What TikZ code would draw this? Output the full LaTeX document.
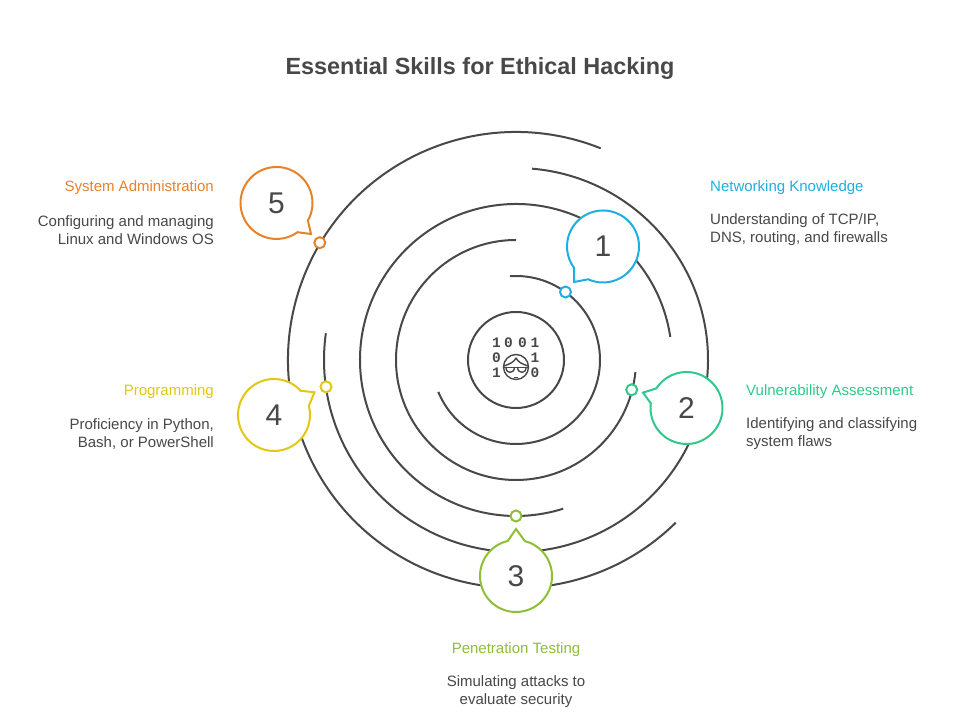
\documentclass[tikz,border=0pt]{standalone}
\usepackage{fontspec}
\setmainfont{Liberation Sans}
\newfontfamily\bitfont[BoldFont={Liberation Mono Bold}]{Liberation Mono}
\definecolor{ink}{HTML}{484848}
\definecolor{cone}{HTML}{1EAFE0}
\definecolor{ctwo}{HTML}{2FC98A}
\definecolor{cthree}{HTML}{8FBF35}
\definecolor{cfour}{HTML}{E2C814}
\definecolor{cfive}{HTML}{E6832A}
\newcommand{\ring}[3]{\draw[ringline] ([shift={(hub)}]#2:#1pt) arc[start angle=#2,end angle=#3,radius=#1pt];}
% name, colour, centre, start angle, end angle, tip, number
\newcommand{\talk}[7]{%
  \coordinate (#1c) at (#3);
  \draw[bubble,draw=#2] (#6) -- ([shift={(#1c)}]#4:36pt) arc[start angle=#4,end angle=#5,radius=36pt] -- cycle;
  \node[numtext] (#1) at (#1c) {#7};
}
\tikzset{
  ringline/.style={draw=ink,line width=2pt},
  bubble/.style={line width=2pt,fill=white,line join=miter,miter limit=3},
  dotmark/.style={circle,draw=#1,fill=white,line width=2pt,minimum size=11pt,inner sep=0pt},
  numtext/.style={font=\fontsize{30}{34}\selectfont,text=ink,inner sep=0pt},
  headl/.style={font=\fontsize{15}{18}\selectfont,inner sep=0pt},
  bodyl/.style={font=\fontsize{15}{18}\selectfont,text=ink,inner sep=0pt},
  bit/.style={font=\fontsize{14.5}{14.5}\selectfont\bitfont\bfseries,text=ink,inner sep=0pt},
  iconline/.style={draw=ink,line width=1.4pt,line join=round,line cap=round}
}
\begin{document}
\begin{tikzpicture}[x=1pt,y=1pt]
\useasboundingbox (0,0) rectangle (960,727);
\fill[white] (0,0) rectangle (960,727);
\coordinate (hub) at (516,367);
\node[font=\fontsize{23.4}{28}\selectfont\bfseries,text=ink,inner sep=0pt] (title) at (480,658.5) {Essential Skills for Ethical Hacking};
% rings
\draw[ringline] (hub) circle[radius=48pt];
\ring{84}{94.1}{-157.7}
\ring{120}{90}{354.2}
\ring{156}{8.5}{287.6}
\ring{192}{85.2}{-188}
\ring{228}{68.2}{314.5}
% markers on the rings
\node[dotmark=cone] (d1) at (565.5,435) {};
\node[dotmark=ctwo] (d2) at (631.7,337.2) {};
\node[dotmark=cthree] (d3) at (516,211) {};
\node[dotmark=cfour] (d4) at (326,340.2) {};
\node[dotmark=cfive] (d5) at (319.8,484.3) {};
% speech bubbles
\talk{b1}{cone}{603,480.5}{245.7}{576.6}{574,445}{1}
\talk{b2}{ctwo}{686.5,319}{172.5}{507.1}{643,334.4}{2}
\talk{b3}{cthree}{516,151}{103.2}{435.7}{516,198}{3}
\talk{b4}{cfour}{274,312}{42.3}{374.7}{314.5,334.7}{4}
\talk{b5}{cfive}{276.5,524}{-29.3}{305.7}{311,493}{5}
% labels
\node[headl,text=cone,anchor=west] (h1) at (710,539.5) {Networking Knowledge};
\node[bodyl,align=left,anchor=west] (t1) at (710,497) {Understanding of TCP/IP,\\DNS, routing, and firewalls};
\node[headl,text=ctwo,anchor=west] (h2) at (746,335.5) {Vulnerability Assessment};
\node[bodyl,align=left,anchor=west] (t2) at (746,293) {Identifying and classifying\\system flaws};
\node[headl,text=cthree] (h3) at (516,77.5) {Penetration Testing};
\node[bodyl,align=center] (t3) at (516,35) {Simulating attacks to\\evaluate security};
\node[headl,text=cfour,anchor=east] (h4) at (214,335.5) {Programming};
\node[bodyl,align=right,anchor=east] (t4) at (214,293) {Proficiency in Python,\\Bash, or PowerShell};
\node[headl,text=cfive,anchor=east] (h5) at (214,539.5) {System Administration};
\node[bodyl,align=right,anchor=east] (t5) at (214,497) {Configuring and managing\\Linux and Windows OS};
% hub icon
\foreach \nm/\px/\py/\val in {a/496.5/343/1,b/508.5/343/0,c/522.5/343/0,e/535/343/1,f/496.5/357.5/0,g/535/357.5/1,k/496.5/373/1,m/535/373/0}
  \node[bit] (bit\nm) at (\px,727-\py) {\val};
\begin{scope}[shift={(0,727)},y=-1pt]
  \draw[iconline] (516,367) circle[radius=12.5pt];
  \draw[iconline] (504,366) .. controls (510,364) and (514,362) .. (516,358) .. controls (518,362) and (522,364) .. (528,366);
  \draw[iconline] (504,367.5) -- (528,367.5);
  \draw[iconline] (506,367.5) .. controls (506,374) and (514,374) .. (514.5,367.5);
  \draw[iconline] (517.5,367.5) .. controls (518,374) and (526,374) .. (526,367.5);
  \draw[iconline] (514.5,377.5) -- (517.5,377.5);
\end{scope}
\end{tikzpicture}
\end{document}
